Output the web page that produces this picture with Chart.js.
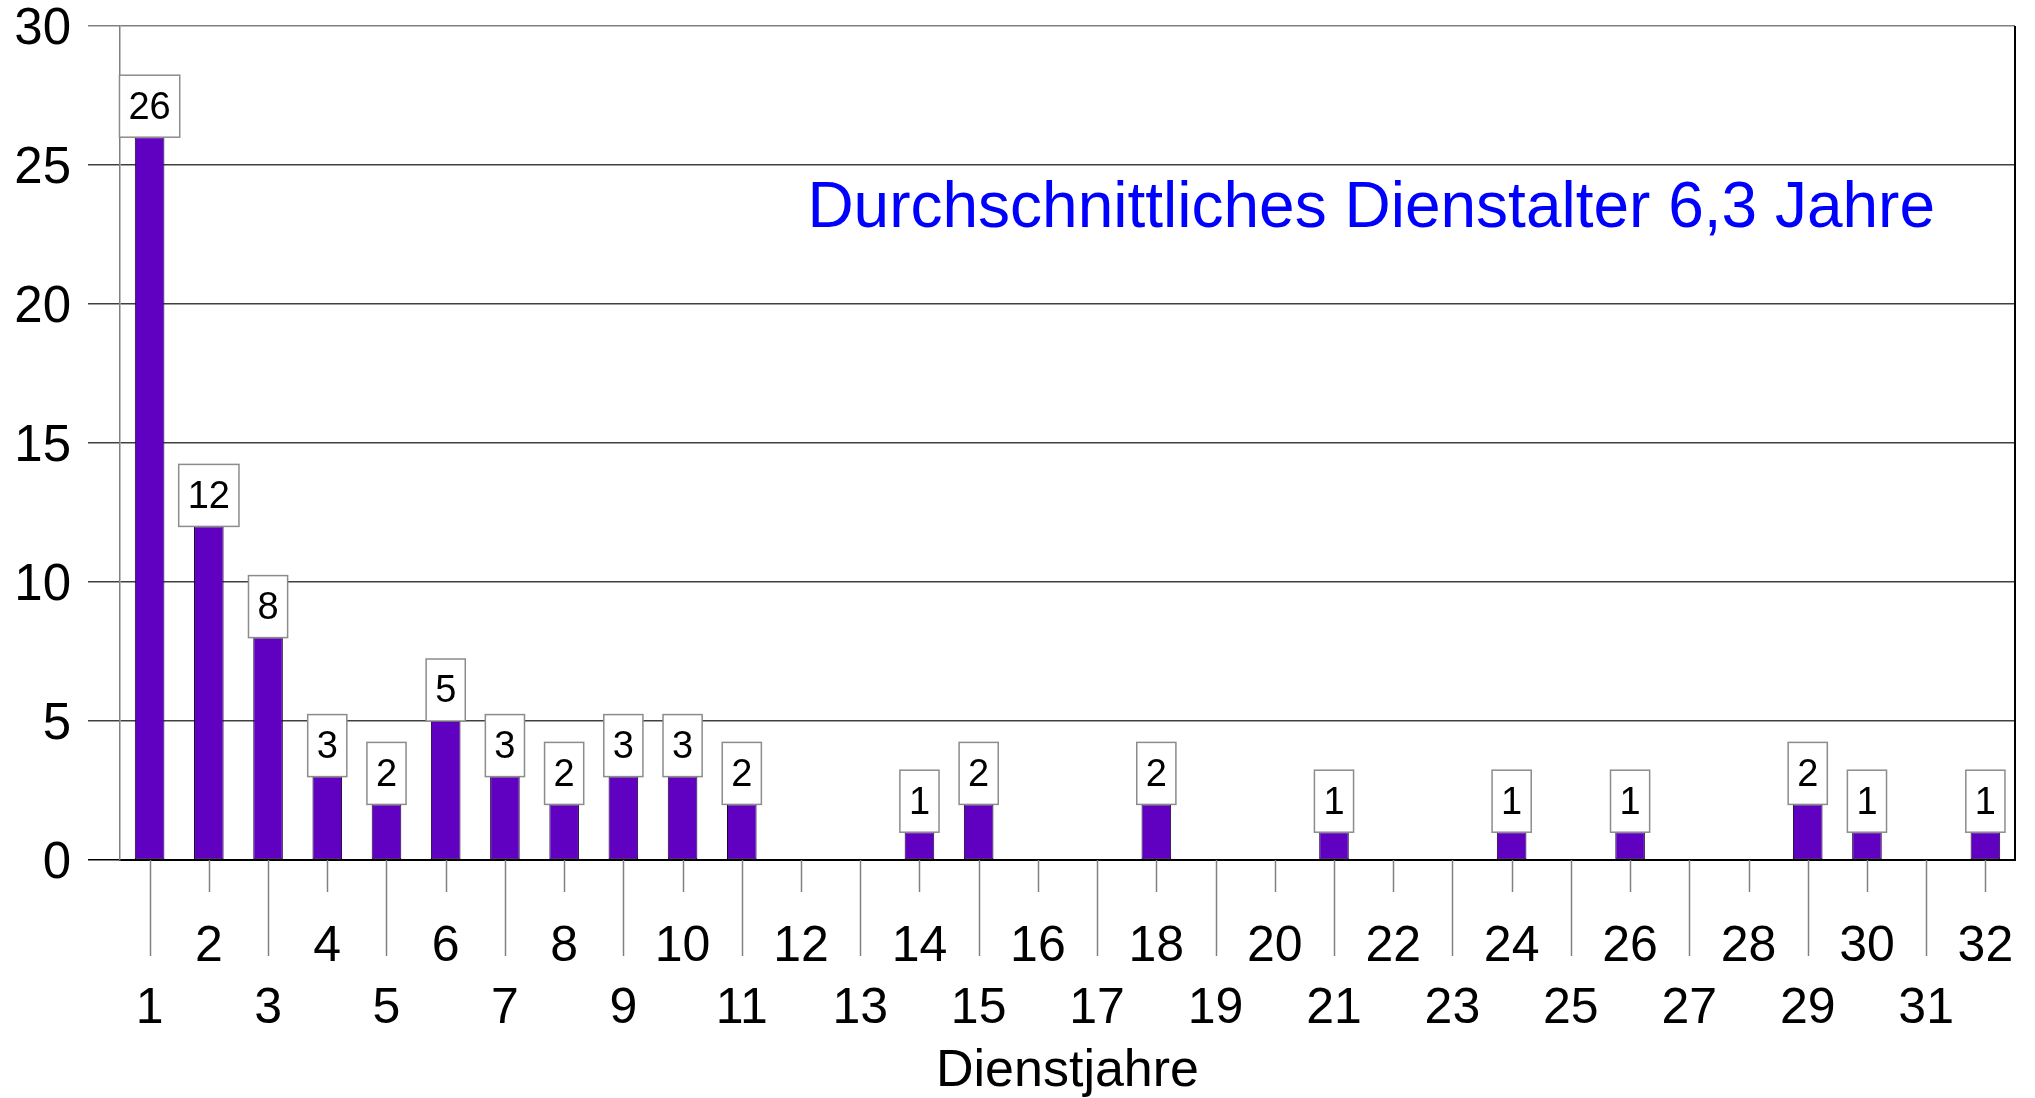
<!DOCTYPE html>
<html>
<head>
<meta charset="utf-8">
<title>Dienstjahre</title>
<script src="https://cdn.jsdelivr.net/npm/chart.js@4.4.1/dist/chart.umd.min.js"></script>
<style>
    html, body { margin: 0; padding: 0; background: #fff; }
    #wrap { width: 2035px; height: 1098px; }
</style>
</head>
<body>
<div id="wrap"><canvas id="barChart" width="2035" height="1098"></canvas></div>
<script>
// data
const categories = ['1','2','3','4','5','6','7','8','9','10','11','12','13','14','15','16',
                    '17','18','19','20','21','22','23','24','25','26','27','28','29','30','31','32'];
const counts = [26, 12, 8, 3, 2, 5, 3, 2, 3, 3, 2, 0, 0, 1, 2, 0,
                0, 2, 0, 0, 1, 0, 0, 1, 0, 1, 0, 0, 2, 1, 0, 1];
const yTicks = [0, 5, 10, 15, 20, 25, 30];
const axisTitle = 'Dienstjahre';
const note = 'Durchschnittliches Dienstalter 6,3 Jahre';

const FONT = "'Liberation Sans', Arial, sans-serif";

// staggered tick marks under the x axis (long ones for the lower label row)
const tickMarks = {
    id: 'tickMarks',
    afterDraw(chart) {
        const ctx = chart.ctx;
        const x = chart.scales.x;
        const bottom = chart.chartArea.bottom;
        ctx.save();
        ctx.strokeStyle = '#808080';
        ctx.lineWidth = 1.5;
        categories.forEach((c, i) => {
            const px = Math.round(x.getPixelForValue(i)) + 0.5;
            const len = i % 2 === 0 ? 96 : 32;
            ctx.beginPath();
            ctx.moveTo(px, bottom);
            ctx.lineTo(px, bottom + len);
            ctx.stroke();
        });
        // right border of the plot
        ctx.strokeStyle = '#000';
        ctx.lineWidth = 2;
        ctx.beginPath();
        ctx.moveTo(chart.chartArea.right, chart.chartArea.top);
        ctx.lineTo(chart.chartArea.right, bottom);
        ctx.stroke();
        ctx.restore();
    }
};

// boxed value labels sitting on top of each bar
const valueBoxes = {
    id: 'valueBoxes',
    afterDatasetsDraw(chart) {
        const ctx = chart.ctx;
        const meta = chart.getDatasetMeta(0);
        ctx.save();
        ctx.font = '38px ' + FONT;
        ctx.textAlign = 'center';
        ctx.textBaseline = 'middle';
        meta.data.forEach((bar, i) => {
            const v = counts[i];
            if (!v) return;
            const txt = String(v);
            const w = ctx.measureText(txt).width + 18;
            const h = 62;
            const left = bar.x - w / 2;
            const top = bar.y - h;
            ctx.fillStyle = '#fff';
            ctx.fillRect(left, top, w, h);
            ctx.strokeStyle = '#8c8c8c';
            ctx.lineWidth = 1.5;
            ctx.strokeRect(left, top, w, h);
            ctx.fillStyle = '#000';
            ctx.fillText(txt, bar.x, top + h / 2 + 2);
        });
        ctx.restore();
    }
};

// blue note inside the plot
const noteText = {
    id: 'noteText',
    afterDraw(chart) {
        const ctx = chart.ctx;
        ctx.save();
        ctx.font = '64px ' + FONT;
        ctx.fillStyle = '#0000ff';
        ctx.textAlign = 'right';
        ctx.textBaseline = 'alphabetic';
        ctx.fillText(note, chart.chartArea.right - 80, 227);
        ctx.restore();
    }
};

const gridColor = c => {
    if (!c.tick) return '#404040';
    if (c.tick.value === 0) return '#000';
    if (c.tick.value === 30) return '#808080';
    return '#404040';
};

const ctx = document.getElementById('barChart').getContext('2d');
const myChart = new Chart(ctx, {
    type: 'bar',
    data: {
        labels: categories,
        datasets: [{
            label: axisTitle,
            data: counts,
            backgroundColor: '#6000c0',
            borderColor: '#1a0033',
            borderWidth: 1,
            borderSkipped: false,
            barPercentage: 0.5,
            categoryPercentage: 1.0
        }]
    },
    options: {
        responsive: false,
        animation: false,
        devicePixelRatio: 1,
        layout: { padding: { left: 13, right: 20, top: 26, bottom: 0 } },
        plugins: {
            legend: { display: false },
            title: { display: false },
            tooltip: { enabled: false }
        },
        scales: {
            x: {
                offset: true,
                grid: { display: false, drawTicks: false },
                border: { display: true, color: '#000', width: 2 },
                ticks: {
                    autoSkip: false,
                    maxRotation: 0,
                    minRotation: 0,
                    padding: 56,
                    color: '#000',
                    font: { family: FONT, size: 50, lineHeight: 1.24 },
                    callback: function(value, index) {
                        const lab = categories[index];
                        return index % 2 === 1 ? lab : ['', lab];
                    }
                },
                title: {
                    display: true,
                    text: axisTitle,
                    color: '#000',
                    font: { family: FONT, size: 52, lineHeight: 1 },
                    padding: { top: 9, bottom: 0 }
                },
                afterFit: function(scale) {
                    scale.height = 238;
                    scale.paddingLeft = 0;
                    scale.paddingRight = 0;
                }
            },
            y: {
                min: 0,
                max: 30,
                afterBuildTicks: function(scale) {
                    scale.ticks = yTicks.map(v => ({ value: v }));
                },
                grid: {
                    color: gridColor,
                    tickColor: gridColor,
                    lineWidth: 1.5,
                    drawTicks: true,
                    tickLength: 32
                },
                border: { display: true, color: '#808080', width: 1.5 },
                ticks: {
                    padding: 17,
                    labelOffset: 4,
                    color: '#000',
                    font: { family: FONT, size: 51, lineHeight: 1 }
                },
                afterFit: function(scale) {
                    scale.width = 107;
                    scale.paddingTop = 0;
                    scale.paddingBottom = 0;
                }
            }
        }
    },
    plugins: [tickMarks, valueBoxes, noteText]
});
</script>
</body>
</html>
